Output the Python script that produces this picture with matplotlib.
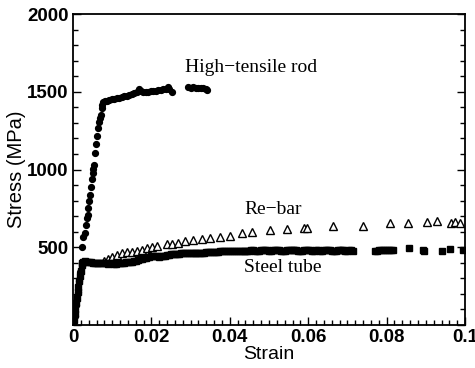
import matplotlib
matplotlib.use('Agg')
import matplotlib.pyplot as plt
from matplotlib.ticker import MultipleLocator, FuncFormatter

# High-tensile rod (filled circles)
rod_strain = [0.0004, 0.0008, 0.0012, 0.0016, 0.0019, 0.0022, 0.0026, 0.0031, 0.0034, 0.0036,
              0.0037, 0.0039, 0.0041, 0.0043, 0.0046, 0.0048, 0.0050, 0.0052, 0.0054, 0.0056,
              0.0059, 0.0062, 0.0065, 0.0067, 0.0069, 0.0071, 0.0073, 0.0075, 0.0077, 0.0081,
              0.0086, 0.0092, 0.0099, 0.0105, 0.0111, 0.0118, 0.0124, 0.0130, 0.0137, 0.0143,
              0.0150, 0.0156, 0.0162, 0.0169, 0.0174, 0.0179, 0.0185, 0.0192, 0.0198, 0.0205,
              0.0211, 0.0218, 0.0224, 0.0230, 0.0236, 0.0242, 0.0246, 0.0253,
              0.0294, 0.0300, 0.0307, 0.0313, 0.0320, 0.0326, 0.0332, 0.0338, 0.0343]
rod_stress = [60, 130, 210, 280, 340, 503, 568, 590, 640, 686,
              707, 750, 800, 836, 890, 940, 976, 1005, 1029, 1104,
              1164, 1215, 1265, 1307, 1330, 1350, 1393, 1415, 1436, 1440,
              1442, 1446, 1451, 1454, 1457, 1462, 1468, 1470, 1473, 1478,
              1484, 1490, 1500, 1516, 1502, 1500, 1498, 1500, 1503, 1507,
              1508, 1511, 1513, 1516, 1520, 1528, 1516, 1497,
              1528, 1527, 1528, 1526, 1526, 1524, 1522, 1518, 1511]

# Re-bar (open triangles)
rebar_strain = [0.0080, 0.0090, 0.0099, 0.0111, 0.0124, 0.0137, 0.0150, 0.0162, 0.0175, 0.0188,
                0.0201, 0.0215, 0.0239, 0.0252, 0.0269, 0.0286, 0.0307, 0.0328, 0.0350, 0.0375,
                0.0400, 0.0430, 0.0456, 0.0503, 0.0545, 0.0588, 0.0598, 0.0664, 0.0741, 0.0809,
                0.0855, 0.0902, 0.0929, 0.0964, 0.0974, 0.0987]
rebar_stress = [412, 422, 439, 450, 461, 468, 471, 478, 482, 493,
                500, 508, 521, 521, 525, 542, 547, 553, 562, 568,
                574, 590, 600, 611, 617, 622, 622, 637, 637, 654,
                654, 665, 669, 658, 662, 658]

# Steel tube (filled squares)
tube_strain = [0.0000, 0.0002, 0.0004, 0.0006, 0.0008, 0.0010, 0.0012, 0.0014, 0.0016, 0.0018,
               0.0020, 0.0022, 0.0024, 0.0026, 0.0030, 0.0035, 0.0040, 0.0045, 0.0050, 0.0055,
               0.0060, 0.0065, 0.0070, 0.0075, 0.0080, 0.0085, 0.0090, 0.0095, 0.0100, 0.0105,
               0.0110, 0.0115, 0.0120, 0.0125, 0.0130, 0.0135, 0.0140, 0.0145, 0.0150, 0.0155,
               0.0160, 0.0165, 0.0170, 0.0175, 0.0180, 0.0185, 0.0190, 0.0195, 0.0200, 0.0205,
               0.0210, 0.0215, 0.0220, 0.0225, 0.0230, 0.0235, 0.0240, 0.0245, 0.0250, 0.0255,
               0.0260, 0.0265, 0.0270, 0.0275, 0.0280, 0.0285, 0.0290, 0.0295, 0.0300, 0.0305,
               0.0310, 0.0315, 0.0320, 0.0325, 0.0330, 0.0335, 0.0340, 0.0345, 0.0350, 0.0355,
               0.0360, 0.0365, 0.0370, 0.0375, 0.0380, 0.0385, 0.0390, 0.0395, 0.0400, 0.0405,
               0.0410, 0.0415, 0.0420, 0.0425, 0.0430, 0.0435, 0.0440, 0.0445, 0.0450, 0.0455,
               0.0460, 0.0465, 0.0470, 0.0475, 0.0480, 0.0485, 0.0490, 0.0495, 0.0500, 0.0505,
               0.0510, 0.0515, 0.0520, 0.0525, 0.0530, 0.0535, 0.0540, 0.0545, 0.0550, 0.0555,
               0.0560, 0.0565, 0.0570, 0.0575, 0.0580, 0.0585, 0.0590, 0.0595, 0.0600, 0.0605,
               0.0610, 0.0615, 0.0620, 0.0625, 0.0630, 0.0635, 0.0640, 0.0645, 0.0650, 0.0655,
               0.0660, 0.0665, 0.0670, 0.0675, 0.0680, 0.0685, 0.0690, 0.0695, 0.0700, 0.0705,
               0.0710, 0.0715, 0.0770, 0.0775, 0.0780, 0.0785, 0.0790, 0.0795, 0.0800, 0.0805,
               0.0810, 0.0817, 0.0858, 0.0894, 0.0896, 0.0940, 0.0962, 0.0996]
tube_stress = [0, 35, 70, 105, 140, 175, 210, 245, 280, 315,
               350, 385, 400, 408, 410, 407, 405, 404, 402, 401,
               400, 399, 398, 397, 398, 396, 395, 396, 397, 393,
               395, 396, 398, 400, 402, 404, 405, 406, 407, 410,
               413, 418, 422, 425, 430, 434, 438, 440, 442, 445,
               447, 447, 439, 442, 445, 447, 450, 452, 455, 455,
               457, 458, 459, 460, 460, 461, 461, 461, 462, 462,
               462, 463, 463, 464, 465, 466, 467, 468, 470, 471,
               471, 472, 472, 473, 474, 474, 475, 476, 476, 476,
               477, 477, 478, 478, 477, 476, 477, 478, 479, 480,
               480, 479, 478, 479, 480, 480, 481, 480, 479, 479,
               480, 481, 481, 480, 479, 478, 479, 480, 480, 481,
               482, 481, 480, 479, 478, 479, 480, 481, 481, 480,
               479, 479, 480, 480, 479, 479, 480, 481, 481, 480,
               479, 479, 479, 480, 480, 481, 480, 479, 479, 480,
               480, 479, 478, 479, 480, 481, 481, 482, 482, 481,
               480, 481, 493, 482, 476, 478, 489, 482]

labels = ['High\u2212tensile rod', 'Re\u2212bar', 'Steel tube']

fig = plt.figure(figsize=(4.75, 3.68), dpi=100)
ax = fig.add_axes([0.1537, 0.1168, 0.8253, 0.8451])

ax.plot(tube_strain, tube_stress, 's', ms=5, color='black', mec='black', zorder=3)
ax.plot(rod_strain, rod_stress, 'o', ms=4.2, color='black', mec='black', zorder=3)
ax.plot(rebar_strain, rebar_stress, '^', ms=5.6, mfc='white', mec='black', mew=1.0, zorder=2)

ax.set_xlim(0, 0.1)
ax.set_ylim(0, 2000)
ax.xaxis.set_major_locator(MultipleLocator(0.02))
ax.xaxis.set_minor_locator(MultipleLocator(0.002))
ax.yaxis.set_major_locator(MultipleLocator(500))
ax.yaxis.set_minor_locator(MultipleLocator(100))
ax.xaxis.set_major_formatter(FuncFormatter(lambda v, p: '0' if v == 0 else ('0.1' if abs(v - 0.1) < 1e-9 else '%g' % v)))
ax.yaxis.set_major_formatter(FuncFormatter(lambda v, p: '' if v == 0 else '%d' % v))

ax.tick_params(which='both', direction='in', top=False, right=True, width=1)
ax.tick_params(which='major', length=6, pad=3)
ax.tick_params(which='minor', length=3.5)
for lab in ax.get_xticklabels() + ax.get_yticklabels():
    lab.set_fontfamily('Liberation Sans')
    lab.set_fontweight('bold')
    lab.set_fontsize(13.5)
for s in ax.spines.values():
    s.set_linewidth(1.3)

ax.set_xlabel('Strain', fontsize=14, family='Liberation Sans', labelpad=0)
ax.set_ylabel('Stress (MPa)', fontsize=14.5, family='Liberation Sans', labelpad=1)

ax.text(0.0286, 1653, labels[0], family='Liberation Serif', fontsize=14, va='center')
ax.text(0.0437, 746, labels[1], family='Liberation Serif', fontsize=14, va='center')
ax.text(0.0437, 367, labels[2], family='Liberation Serif', fontsize=14, va='center')

fig.savefig('out.png', dpi=100)
